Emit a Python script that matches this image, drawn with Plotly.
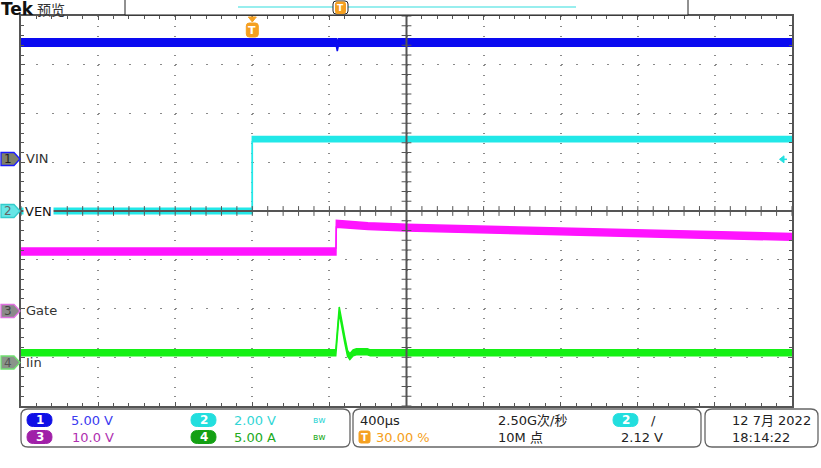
import numpy as np
import plotly.graph_objects as go

# ---------------- data ----------------
# time axis in microseconds, 400 us/div, trigger at 30 % of record
time_per_div = 400
t_start, t_end = -1200, 2800

# CH1  VIN  (5.00 V/div)
t_vin = [-1200, 436, 441, 446, 2800]
v_vin = [11.95, 11.95, 11.45, 11.95, 11.95]
# CH2  VEN  (2.00 V/div)
t_ven = [-1200, 0, 0, 2800]
v_ven = [0.0, 0.0, 2.95, 2.95]
# CH3  Gate (10.0 V/div)
t_gate = [-1200, 434, 436, 470, 600, 800, 1300, 1800, 2300, 2800]
v_gate = [12.2, 12.2, 17.9, 17.8, 17.4, 17.1, 16.6, 16.1, 15.6, 15.2]
# CH4  Iin  (5.00 A/div)
t_iin = [-1200, 433, 451, 463, 480, 494, 506, 523, 540, 597, 612, 2800]
v_iin = [1.0, 1.0, 5.4, 4.0, 2.3, 0.95, 0.6, 1.0, 1.1, 1.1, 1.0, 1.0]

ch_names = ["VIN", "VEN", "Gate", "Iin"]
ch_scales = [5.0, 2.0, 10.0, 5.0]          # units / div
ch_offsets = [1.067, 0.0, -2.051, -3.108]  # ground marker position (div)
ch_colors = ["#0a0af0", "#22e8e8", "#ff14ff", "#14f014"]
trig_level = 2.12

status_row1 = ["5.00 V", "2.00 V"]
status_row2 = ["10.0 V", "5.00 A"]

# ---------------- geometry helpers ----------------
W, H = 821, 468
L, R, T, B = 21, 792, 16, 406          # plot area in pixels
PW, PH = R - L, B - T


def X(px):
    return (px - L) / PW


def Y(py):
    return (B - py) / PH


def rrect(x0, y0, x1, y1, r):
    """rounded rectangle path in paper coords from pixel coords"""
    pts = [
        f"M{X(x0 + r)},{Y(y0)}", f"L{X(x1 - r)},{Y(y0)}",
        f"Q{X(x1)},{Y(y0)} {X(x1)},{Y(y0 + r)}", f"L{X(x1)},{Y(y1 - r)}",
        f"Q{X(x1)},{Y(y1)} {X(x1 - r)},{Y(y1)}", f"L{X(x0 + r)},{Y(y1)}",
        f"Q{X(x0)},{Y(y1)} {X(x0)},{Y(y1 - r)}", f"L{X(x0)},{Y(y0 + r)}",
        f"Q{X(x0)},{Y(y0)} {X(x0 + r)},{Y(y0)}", "Z",
    ]
    return " ".join(pts)


def poly(points):
    return "M" + " L".join(f"{X(a)},{Y(b)}" for a, b in points) + " Z"


fig = go.Figure()

# ---------------- traces (noise band drawn as a filled ribbon) ----------------
half = [0.075, 0.055, 0.07, 0.06]
series = [(t_vin, v_vin), (t_ven, v_ven), (t_gate, v_gate), (t_iin, v_iin)]
for i, (t, v) in enumerate(series):
    y = np.array(v) / ch_scales[i] + ch_offsets[i]
    fig.add_trace(go.Scatter(x=t, y=y - half[i], mode="lines",
                             line=dict(color=ch_colors[i], width=1.5),
                             hoverinfo="skip", showlegend=False))
    fig.add_trace(go.Scatter(x=t, y=y + half[i], mode="lines",
                             line=dict(color=ch_colors[i], width=1.5),
                             fill="tonexty", fillcolor=ch_colors[i],
                             hoverinfo="skip", showlegend=False))

# centre graticule ticks
t_mid = (t_start + t_end) / 2
fig.add_trace(go.Scatter(x=np.arange(t_start, t_end + 1, time_per_div / 5),
                         y=np.zeros(51), mode="markers",
                         marker=dict(symbol="line-ns", size=7,
                                     line=dict(color="#555", width=1)),
                         hoverinfo="skip", showlegend=False))
fig.add_trace(go.Scatter(x=np.full(41, t_mid), y=np.arange(-4, 4.001, 0.2),
                         mode="markers",
                         marker=dict(symbol="line-ew", size=7,
                                     line=dict(color="#555", width=1)),
                         hoverinfo="skip", showlegend=False))

shapes = []
# centre cross lines
shapes.append(dict(type="line", xref="x", yref="paper", x0=t_mid, x1=t_mid,
                   y0=0, y1=1, line=dict(color="#555", width=2), layer="above"))
shapes.append(dict(type="line", xref="paper", yref="y", x0=0, x1=1,
                   y0=0, y1=0, line=dict(color="#555", width=2), layer="above"))

ann = []


def text(px, py, s, size=13, color="#222", xanchor="left", family="DejaVu Sans",
         **kw):
    ann.append(dict(x=X(px), y=Y(py), xref="paper", yref="paper", text=s,
                    showarrow=False, xanchor=xanchor, yanchor="middle",
                    font=dict(size=size, color=color, family=family), **kw))


# ---------------- header ----------------
text(-1, 8.5, "<b>Tek</b>", size=17, color="#111", family="DejaVu Sans")
text(35, 9, "预览", size=14, color="#333", family="Noto Sans CJK SC")
shapes.append(dict(type="rect", xref="paper", yref="paper", x0=X(125), x1=X(688),
                   y0=Y(15), y1=Y(-2), line=dict(color="#222", width=1),
                   fillcolor="white", layer="above"))
shapes.append(dict(type="line", xref="paper", yref="paper", x0=X(238), x1=X(576),
                   y0=Y(7), y1=Y(7), line=dict(color="#33dddd", width=1.2),
                   layer="above"))
shapes.append(dict(type="path", path=rrect(333, 1, 348, 14, 3),
                   xref="paper", yref="paper", fillcolor="white",
                   line=dict(color="#222", width=1), layer="above"))
shapes.append(dict(type="path", path=rrect(335.5, 2, 345.5, 13.5, 2),
                   xref="paper", yref="paper", fillcolor="#f5a020",
                   line=dict(color="#f5a020", width=1), layer="above"))
text(340.5, 8, "<b>T</b>", size=9, color="white", xanchor="center")

# trigger position marker (t = 0)
tp = L + (0 - t_start) / (t_end - t_start) * PW
shapes.append(dict(type="path", path=poly([(tp - 4, 17), (tp + 4, 17), (tp, 22)]),
                   xref="paper", yref="paper", fillcolor="#f5a020",
                   line=dict(color="#f5a020", width=1), layer="above"))
shapes.append(dict(type="path", path=rrect(tp - 6, 23, tp + 6, 37, 3),
                   xref="paper", yref="paper", fillcolor="#f5a020",
                   line=dict(color="#f5a020", width=1), layer="above"))
text(tp, 30.5, "<b>T</b>", size=11, color="white", xanchor="center")

# trigger level arrow (right side)
ty = T + PH / 2 - (trig_level / ch_scales[1] + ch_offsets[1]) * PH / 8
shapes.append(dict(type="path",
                   path=poly([(779.5, ty), (784, ty - 3.5), (784, ty + 3.5)]),
                   xref="paper", yref="paper", fillcolor="#22e0e0",
                   line=dict(color="#22e0e0", width=1), layer="above"))
shapes.append(dict(type="line", xref="paper", yref="paper", x0=X(784), x1=X(787),
                   y0=Y(ty), y1=Y(ty), line=dict(color="#22e0e0", width=1.5),
                   layer="above"))

# ---------------- channel ground markers + labels ----------------
mk_fill = ["#7e806c", "#66e6e6", "#8a8a8a", "#8a948a"]
mk_line = ["#1a1aff", "#33cccc", "#e070e0", "#70e070"]
mk_txt = ["#222", "#666", "#444", "#555"]
for i in range(4):
    cy = T + PH / 2 - ch_offsets[i] * PH / 8
    shapes.append(dict(type="path",
                       path=poly([(1, cy - 6.5), (14, cy - 6.5), (20, cy),
                                  (14, cy + 6.5), (1, cy + 6.5)]),
                       xref="paper", yref="paper", fillcolor=mk_fill[i],
                       line=dict(color=mk_line[i], width=1.3), layer="above"))
    text(8.5, cy, str(i + 1), size=12, color=mk_txt[i], xanchor="center")
    if i == 1:
        text(23, cy, ch_names[i], size=13, color="#111", bgcolor="white",
             borderpad=1)
    else:
        text(24, cy, ch_names[i], size=13, color="#333")

# ---------------- status bar ----------------
for (a, b) in [(21, 350), (353, 701), (705, 818)]:
    shapes.append(dict(type="path", path=rrect(a, 409, b, 447, 7),
                       xref="paper", yref="paper", fillcolor="white",
                       line=dict(color="#666", width=1.3), layer="above"))

pill_cols = ["#1010e6", "#22dede", "#a020a8", "#14a014"]
txt_cols = ["#3a3af0", "#33d6d6", "#b030b0", "#22aa22"]
pill_pos = [(27, 420), (191, 420), (27, 437), (191, 437)]
for i, (px, py) in enumerate(pill_pos):
    shapes.append(dict(type="path", path=rrect(px, py - 6.5, px + 25, py + 6.5, 6.5),
                       xref="paper", yref="paper", fillcolor=pill_cols[i],
                       line=dict(color=pill_cols[i], width=1), layer="above"))
    text(px + 12.5, py, f"<b>{[1, 2, 3, 4][i]}</b>", size=12, color="white",
         xanchor="center")
text(69, 420, status_row1[0], color=txt_cols[0])
text(232, 420, status_row1[1], color=txt_cols[1])
text(70, 437, status_row2[0], color=txt_cols[2])
text(232, 437, status_row2[1], color=txt_cols[3])
text(311, 420, "ʙᴡ", size=9, color=txt_cols[1])
text(311, 437, "ʙᴡ", size=9, color=txt_cols[3])

text(358, 420, "400µs", color="#222")
shapes.append(dict(type="path", path=rrect(359, 431, 370, 443, 2),
                   xref="paper", yref="paper", fillcolor="#f5a020",
                   line=dict(color="#f5a020", width=1), layer="above"))
text(364.5, 437, "<b>T</b>", size=10, color="white", xanchor="center")
text(374, 437, "30.00 %", color="#f5a020")
text(496, 420, "2.50G次/秒", color="#222", family="DejaVu Sans, Noto Sans CJK SC")
text(496, 437, "10M 点", color="#222", family="DejaVu Sans, Noto Sans CJK SC")
shapes.append(dict(type="path", path=rrect(613, 413.5, 638, 426.5, 6.5),
                   xref="paper", yref="paper", fillcolor="#22dede",
                   line=dict(color="#22dede", width=1), layer="above"))
text(625.5, 420, "<b>2</b>", size=12, color="white", xanchor="center")
text(649, 420, "/", color="#222")
text(619, 437, "2.12 V", color="#222")
text(730, 420, "12 7月 2022", color="#222", family="DejaVu Sans, Noto Sans CJK SC")
text(730, 437, "18:14:22", color="#222")

# ---------------- layout / graticule ----------------
fig.update_layout(
    width=W, height=H,
    margin=dict(l=L, r=W - R, t=T, b=H - B, pad=0),
    paper_bgcolor="white", plot_bgcolor="white",
    showlegend=False,
    shapes=shapes, annotations=ann,
    xaxis=dict(range=[t_start, t_end], dtick=time_per_div, tick0=t_start,
               showgrid=True, gridcolor="#8a8a8a", gridwidth=2,
               griddash="1px,8.75px", zeroline=False,
               showline=True, linecolor="#555", linewidth=2, mirror="ticks",
               ticks="inside", ticklen=4, tickcolor="#555", tickwidth=1,
               minor=dict(dtick=time_per_div / 5, ticks="inside", ticklen=3,
                          tickcolor="#555", showgrid=False),
               showticklabels=False, fixedrange=True, layer="above traces"),
    yaxis=dict(range=[-4, 4], dtick=1, tick0=-4,
               showgrid=True, gridcolor="#8a8a8a", gridwidth=1,
               griddash="2px,13.42px", zeroline=False,
               showline=True, linecolor="#555", linewidth=2, mirror="ticks",
               ticks="inside", ticklen=4, tickcolor="#555", tickwidth=1,
               minor=dict(dtick=0.2, ticks="inside", ticklen=3,
                          tickcolor="#555", showgrid=False),
               showticklabels=False, fixedrange=True, layer="above traces"),
)

fig.write_html("out.html", config=dict(displayModeBar=False),
               post_script="document.body.style.margin='0';"
                           "document.body.style.overflow='hidden';")
